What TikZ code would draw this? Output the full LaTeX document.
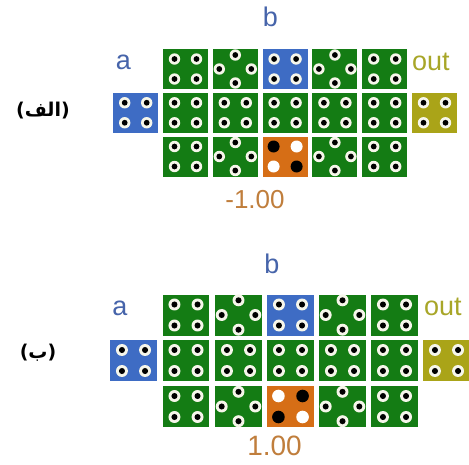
\documentclass[tikz,border=0pt]{standalone}
\usepackage{fontspec}
\setmainfont{Liberation Sans}
\newfontfamily\arabicfont[Script=Arabic]{DejaVu Sans}
\TeXXeTstate=1
\usetikzlibrary{calc}
\definecolor{tgreen}{RGB}{20,124,20}
\definecolor{tblue}{RGB}{62,108,196}
\definecolor{torange}{RGB}{214,110,22}
\definecolor{tolive}{RGB}{170,164,24}
\definecolor{lblue}{RGB}{70,100,170}
\definecolor{lolive}{RGB}{168,166,40}
\definecolor{lnum}{RGB}{192,126,60}
\definecolor{ringc}{RGB}{246,246,234}
\newcommand\fourdot{\foreach \p in {(-11,-10),(11,-10),(-11,10),(11,10)} {\fill[ringc] \p circle (5.7); \fill[black] \p circle (2.9);}}
\newcommand\diadot{\foreach \p in {(0,-14),(-16,0),(16,0),(0,14)} {\fill[ringc] \p circle (5.7); \fill[black] \p circle (2.9);}}
\newcommand\bigdot[4]{\fill[#1] (-11.5,-10) circle (6); \fill[#2] (11.5,-10) circle (6); \fill[#3] (-11.5,10) circle (6); \fill[#4] (11.5,10) circle (6);}
% name, x, y, style, colour, dots, scale
\newcommand\tileat[7]{%
  \node[#4, fill=#5] (#1) at (#2,#3) {};
  \begin{scope}[shift={(#1.center)}, scale=#7] #6 \end{scope}}
\begin{document}
\begin{tikzpicture}[x=1pt,y=-1pt,
  tileA/.style={rectangle, draw=none, inner sep=0pt, minimum width=45pt, minimum height=40pt},
  tileB/.style={rectangle, draw=none, inner sep=0pt, minimum width=46.5pt, minimum height=41pt},
  lab/.style={inner sep=0pt, font=\fontsize{27}{30}\selectfont},
  arab/.style={inner sep=0pt, font=\arabicfont\bfseries\fontsize{19}{22}\selectfont}]
\useasboundingbox (0,0) rectangle (469,464);
\clip (0,0) rectangle (469,464);
\fill[white] (0,0) rectangle (469,464);
% ---------- panel a ----------
\tileat{a0m}{135.7}{112.75}{tileA}{tblue}{\fourdot}{1}
\tileat{a1t}{185.5}{69}{tileA}{tgreen}{\fourdot}{1}
\tileat{a2t}{235.3}{69}{tileA}{tgreen}{\diadot}{1}
\tileat{a3t}{285.1}{69}{tileA}{tblue}{\fourdot}{1}
\tileat{a4t}{334.9}{69}{tileA}{tgreen}{\diadot}{1}
\tileat{a5t}{384.7}{69}{tileA}{tgreen}{\fourdot}{1}
\tileat{a1m}{185.5}{112.75}{tileA}{tgreen}{\fourdot}{1}
\tileat{a2m}{235.3}{112.75}{tileA}{tgreen}{\fourdot}{1}
\tileat{a3m}{285.1}{112.75}{tileA}{tgreen}{\fourdot}{1}
\tileat{a4m}{334.9}{112.75}{tileA}{tgreen}{\fourdot}{1}
\tileat{a5m}{384.7}{112.75}{tileA}{tgreen}{\fourdot}{1}
\tileat{a6m}{434.5}{112.75}{tileA}{tolive}{\fourdot}{1}
\tileat{a1b}{185.5}{156.5}{tileA}{tgreen}{\fourdot}{1}
\tileat{a2b}{235.3}{156.5}{tileA}{tgreen}{\diadot}{1}
\tileat{a3b}{285.1}{156.5}{tileA}{torange}{\bigdot{black}{white}{white}{black}}{1}
\tileat{a4b}{334.9}{156.5}{tileA}{tgreen}{\diadot}{1}
\tileat{a5b}{384.7}{156.5}{tileA}{tgreen}{\fourdot}{1}
\node[lab, text=lblue, anchor=base] (alb) at (270.5,26) {b};
\node[lab, text=lblue, anchor=base] (ala) at (123.5,69.5) {a};
\node[lab, text=lolive, anchor=base west] (alo) at (412,70) {out};
\node[lab, text=lnum, anchor=base, font=\fontsize{26}{30}\selectfont] (aln) at (255,208) {-1.00};
\node[arab] (alab) at (43,111) {\beginR(الف)\endR};
% ---------- panel b ----------
\tileat{b0m}{133.5}{360.5}{tileB}{tblue}{\fourdot}{1.05}
\tileat{b1t}{186}{315}{tileB}{tgreen}{\fourdot}{1.05}
\tileat{b2t}{238.5}{315}{tileB}{tgreen}{\diadot}{1.05}
\tileat{b3t}{290.5}{315}{tileB}{tblue}{\fourdot}{1.05}
\tileat{b4t}{342.5}{315}{tileB}{tgreen}{\diadot}{1.05}
\tileat{b5t}{394.5}{315}{tileB}{tgreen}{\fourdot}{1.05}
\tileat{b1m}{186}{360.5}{tileB}{tgreen}{\fourdot}{1.05}
\tileat{b2m}{238.5}{360.5}{tileB}{tgreen}{\fourdot}{1.05}
\tileat{b3m}{290.5}{360.5}{tileB}{tgreen}{\fourdot}{1.05}
\tileat{b4m}{342.5}{360.5}{tileB}{tgreen}{\fourdot}{1.05}
\tileat{b5m}{394.5}{360.5}{tileB}{tgreen}{\fourdot}{1.05}
\tileat{b6m}{446.5}{360.5}{tileB}{tolive}{\fourdot}{1.05}
\tileat{b1b}{186}{406.5}{tileB}{tgreen}{\fourdot}{1.05}
\tileat{b2b}{238.5}{406.5}{tileB}{tgreen}{\diadot}{1.05}
\tileat{b3b}{290.5}{406.5}{tileB}{torange}{\bigdot{white}{black}{black}{white}}{1.05}
\tileat{b4b}{342.5}{406.5}{tileB}{tgreen}{\diadot}{1.05}
\tileat{b5b}{394.5}{406.5}{tileB}{tgreen}{\fourdot}{1.05}
\node[lab, text=lblue, anchor=base] (blb) at (272,273) {b};
\node[lab, text=lblue, anchor=base] (bla) at (120,315) {a};
\node[lab, text=lolive, anchor=base west] (blo) at (424,315) {out};
\node[lab, text=lnum, anchor=base, font=\fontsize{28}{32}\selectfont] (bln) at (274.5,455) {1.00};
\node[arab] (blab) at (38,353) {\beginR(ب)\endR};
\end{tikzpicture}
\end{document}
